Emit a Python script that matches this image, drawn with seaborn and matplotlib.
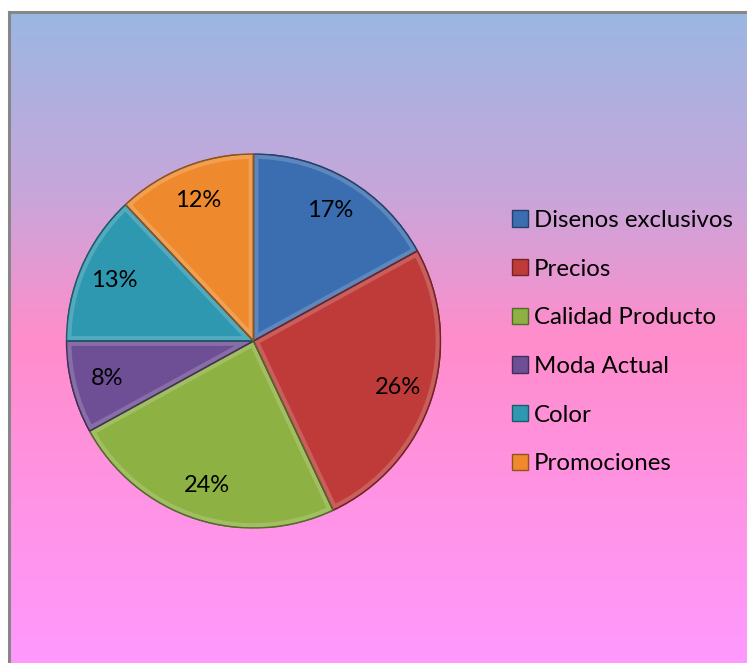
import numpy as np
import matplotlib
matplotlib.use("Agg")
import matplotlib.pyplot as plt
import matplotlib.colors as mcolors
from matplotlib.patches import Patch, Wedge
import seaborn as sns

# Survey results: factors influencing purchase
categories = ["Disenos exclusivos", "Precios", "Calidad Producto",
              "Moda Actual", "Color", "Promociones"]
shares = [17, 26, 24, 8, 13, 12]
slice_colors = ["#3B6DB1", "#BE3B39", "#8DB142", "#6E4F95", "#2E98B1", "#EE8A2D"]

sns.set_style("white")
plt.rcParams["font.family"] = ["Lato", "DejaVu Sans"]
palette = sns.color_palette(slice_colors)

W, H = 747, 663
fig = plt.figure(figsize=(W / 100, H / 100), dpi=100)
fig.patch.set_facecolor("white")

# chart area with vertical gradient fill
bg_left, bg_top = 9, 12
bg = fig.add_axes([bg_left / W, 0, (W - bg_left) / W, (H - bg_top) / H])
grad_cmap = mcolors.LinearSegmentedColormap.from_list(
    "bg", [(0.0, "#9BB7E3"), (0.28, "#C8A6DA"), (0.5, "#FF8DCB"), (1.0, "#FF99FE")])
bg.imshow(np.linspace(0, 1, 256).reshape(-1, 1), aspect="auto", cmap=grad_cmap,
          extent=[0, 1, 0, 1], origin="upper")
bg.set_xlim(0, 1)
bg.set_ylim(0, 1)
bg.set_xticks([])
bg.set_yticks([])
for side in ["right", "bottom"]:
    bg.spines[side].set_visible(False)
for side in ["top", "left"]:
    bg.spines[side].set_color("#878787")
    bg.spines[side].set_linewidth(2.2)

# pie
cx, cy, r = 253.5, H - 341, 187
ax = fig.add_axes([(cx - r) / W, (cy - r) / H, 2 * r / W, 2 * r / H])
ax.set_facecolor("none")
wedges, _, autotexts = ax.pie(
    shares, colors=palette, startangle=90, counterclock=False,
    autopct="%.0f%%", pctdistance=0.81,
    wedgeprops=dict(linewidth=1.0),
    textprops=dict(fontsize=17, color="black"))
for w, c in zip(wedges, palette):
    dark = tuple(v * 0.6 for v in c)
    light = tuple(v + (1 - v) * 0.45 for v in c)
    w.set_edgecolor(dark)
    # bevel: light strip just inside every edge of the slice
    rim = Wedge((0, 0), 1.0, w.theta1, w.theta2, facecolor="none",
                edgecolor=light, linewidth=7, alpha=0.4, zorder=1.5)
    ax.add_patch(rim)
    rim.set_clip_path(w)
    edge = Wedge((0, 0), 1.0, w.theta1, w.theta2, facecolor="none",
                 edgecolor=dark, linewidth=1.0, zorder=1.6)
    ax.add_patch(edge)
for t in autotexts:
    t.set_zorder(5)
ax.set_xlim(-1.0, 1.0)
ax.set_ylim(-1.0, 1.0)
ax.set_aspect("equal")
ax.axis("off")

# legend with colour keys
handles = [Patch(facecolor=c, edgecolor=tuple(v * 0.6 for v in c), linewidth=1.0)
           for c in palette]
fig.legend(handles, categories, loc="upper left",
           bbox_to_anchor=(512 / W, 1 - 210 / H), frameon=False,
           fontsize=17.3, handlelength=0.67, handleheight=0.67,
           handletextpad=0.25, labelspacing=1.15, borderaxespad=0,
           borderpad=0, labelcolor="black")

fig.savefig("out.png", dpi=100)
